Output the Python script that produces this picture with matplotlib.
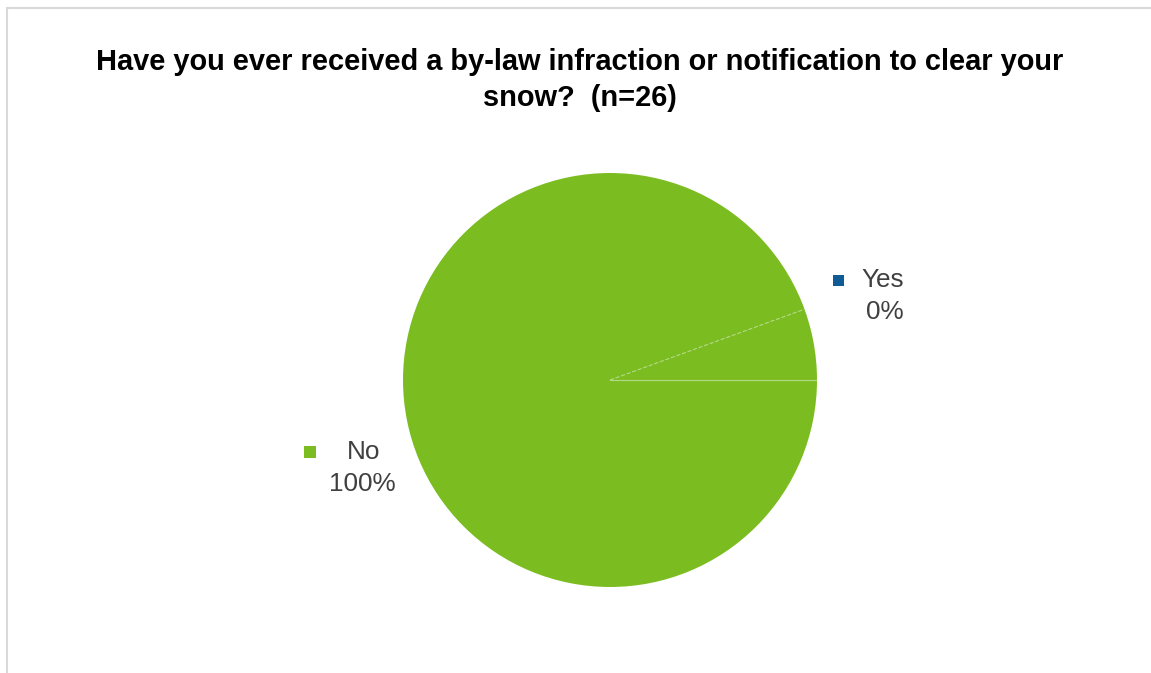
import matplotlib
matplotlib.use("Agg")
import matplotlib.pyplot as plt
import numpy as np
from matplotlib.patches import Rectangle

categories = ["Yes", "No"]
values = [0, 100]
pct_labels = ["0%", "100%"]
colors = ["#0f5b96", "#7bbd21"]
title = "Have you ever received a by-law infraction or notification to clear your\nsnow?  (n=26)"

plt.rcParams['font.family'] = ['Liberation Sans', 'DejaVu Sans']

W, H = 1151, 673
fig = plt.figure(figsize=(W/100, H/100), dpi=100)

# frame
fig.patches.append(Rectangle((7/W, -0.1), 1.2, (673-8)/H + 0.1, transform=fig.transFigure,
                             fill=False, edgecolor="#d9d9d9", linewidth=1.5))

cx, cy, r = 610, 380, 207
ax = fig.add_axes([(cx-r)/W, (H-cy-r)/H, 2*r/W, 2*r/H])
ax.set_aspect('equal')
nz = [v for v in values if v > 0]
nzc = [c for v, c in zip(values, colors) if v > 0]
ax.pie(nz, colors=nzc, startangle=0, counterclock=True,
       wedgeprops=dict(linewidth=0), radius=1.0)
# faint slice edges
for ang, ls in [(0, '-'), (20, '--')]:
    a = np.deg2rad(ang)
    ax.plot([0, np.cos(a)], [0, np.sin(a)], color="#b5d98a", lw=0.8, ls=ls)
ax.set_xlim(-1, 1)
ax.set_ylim(-1, 1)
ax.axis('off')

fig.text(580/W, 1-80/H, title, ha='center', va='center', fontsize=20.9,
         fontweight='bold', color='black', linespacing=1.33)

txtc = "#404040"
fs = 18.8
# Yes label
fig.patches.append(Rectangle((833/W, 1-286/H), 11/W, 11/H, transform=fig.transFigure,
                             facecolor=colors[0], edgecolor='none'))
fig.text(883/W, 1-280/H, categories[0], ha='center', va='center', fontsize=fs, color=txtc)
fig.text(885/W, 1-312/H, pct_labels[0], ha='center', va='center', fontsize=fs, color=txtc)
# No label
fig.patches.append(Rectangle((304/W, 1-458/H), 12/W, 12/H, transform=fig.transFigure,
                             facecolor=colors[1], edgecolor='none'))
fig.text(364/W, 1-452/H, categories[1], ha='center', va='center', fontsize=fs, color=txtc)
fig.text(362/W, 1-484/H, pct_labels[1], ha='center', va='center', fontsize=fs, color=txtc)

fig.savefig("out.png", dpi=100)
